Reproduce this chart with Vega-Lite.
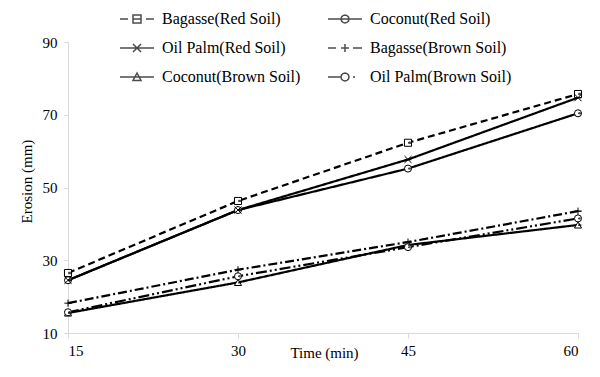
{
  "$schema": "https://vega.github.io/schema/vega-lite/v6.json",
  "width": 510,
  "height": 291,
  "autosize": "none",
  "padding": {"left": 68, "top": 42, "right": 22, "bottom": 44},
  "background": "white",
  "config": {"view": {"stroke": null}, "font": "Liberation Serif"},
  "data": {"values": [
    {"time": 15, "series": "Bagasse(Red Soil)", "erosion": 26.5},
    {"time": 30, "series": "Bagasse(Red Soil)", "erosion": 46.3},
    {"time": 45, "series": "Bagasse(Red Soil)", "erosion": 62.3},
    {"time": 60, "series": "Bagasse(Red Soil)", "erosion": 75.7},
    {"time": 15, "series": "Coconut(Red Soil)", "erosion": 24.5},
    {"time": 30, "series": "Coconut(Red Soil)", "erosion": 43.8},
    {"time": 45, "series": "Coconut(Red Soil)", "erosion": 55.2},
    {"time": 60, "series": "Coconut(Red Soil)", "erosion": 70.4},
    {"time": 15, "series": "Oil Palm(Red Soil)", "erosion": 24.5},
    {"time": 30, "series": "Oil Palm(Red Soil)", "erosion": 43.8},
    {"time": 45, "series": "Oil Palm(Red Soil)", "erosion": 57.7},
    {"time": 60, "series": "Oil Palm(Red Soil)", "erosion": 74.7},
    {"time": 15, "series": "Bagasse(Brown Soil)", "erosion": 18.2},
    {"time": 30, "series": "Bagasse(Brown Soil)", "erosion": 27.4},
    {"time": 45, "series": "Bagasse(Brown Soil)", "erosion": 35.0},
    {"time": 60, "series": "Bagasse(Brown Soil)", "erosion": 43.5},
    {"time": 15, "series": "Coconut(Brown Soil)", "erosion": 15.5},
    {"time": 30, "series": "Coconut(Brown Soil)", "erosion": 23.9},
    {"time": 45, "series": "Coconut(Brown Soil)", "erosion": 34.2},
    {"time": 60, "series": "Coconut(Brown Soil)", "erosion": 39.7},
    {"time": 15, "series": "Oil Palm(Brown Soil)", "erosion": 15.7},
    {"time": 30, "series": "Oil Palm(Brown Soil)", "erosion": 25.6},
    {"time": 45, "series": "Oil Palm(Brown Soil)", "erosion": 33.6},
    {"time": 60, "series": "Oil Palm(Brown Soil)", "erosion": 41.5}
  ]},
  "encoding": {
    "x": {
      "field": "time", "type": "quantitative",
      "scale": {"domain": [15, 60], "nice": false, "zero": false},
      "axis": {
        "values": [15, 30, 45, 60], "grid": false,
        "domainColor": "#d9d9d9", "tickColor": "#d9d9d9", "tickSize": 5,
        "labelFont": "Liberation Serif", "labelFontSize": 15, "labelColor": "black", "labelPadding": 5,
        "title": "Time (min)", "titleFont": "Liberation Serif", "titleFontSize": 15,
        "titleFontWeight": "normal", "titleColor": "black",
        "titleX": 256, "titleY": 19, "titleBaseline": "middle", "titleAlign": "center"
      }
    },
    "y": {
      "field": "erosion", "type": "quantitative",
      "scale": {"domain": [10, 90], "nice": false, "zero": false},
      "axis": {
        "values": [10, 30, 50, 70, 90], "grid": false,
        "domainColor": "#d9d9d9", "tickColor": "#d9d9d9", "tickSize": 4,
        "labelFont": "Liberation Serif", "labelFontSize": 15, "labelColor": "black", "labelPadding": 7,
        "title": "Erosion (mm)", "titleFont": "Liberation Serif", "titleFontSize": 15,
        "titleFontWeight": "normal", "titleColor": "black",
        "titleX": -42, "titleY": 139, "titleAngle": 270, "titleBaseline": "middle", "titleAlign": "center"
      }
    }
  },
  "layer": [
    {
      "mark": {"type": "line", "color": "black"},
      "encoding": {
        "detail": {"field": "series"},
        "strokeDash": {
          "field": "series", "type": "nominal", "legend": null,
          "scale": {
            "domain": ["Bagasse(Red Soil)", "Coconut(Red Soil)", "Oil Palm(Red Soil)", "Bagasse(Brown Soil)", "Coconut(Brown Soil)", "Oil Palm(Brown Soil)"],
            "range": [[7, 4], [1, 0], [1, 0], [9, 3, 2, 3], [1, 0], [11, 3, 2, 3, 2, 3]]
          }
        },
        "strokeWidth": {
          "field": "series", "type": "nominal", "legend": null,
          "scale": {
            "domain": ["Bagasse(Red Soil)", "Coconut(Red Soil)", "Oil Palm(Red Soil)", "Bagasse(Brown Soil)", "Coconut(Brown Soil)", "Oil Palm(Brown Soil)"],
            "range": [2.2, 2.2, 2.2, 2, 1.6, 1.8]
          }
        }
      }
    },
    {
      "mark": {"type": "point", "filled": true, "fill": "white", "stroke": "black", "strokeWidth": 1, "size": 50, "opacity": 1},
      "encoding": {
        "shape": {
          "field": "series", "type": "nominal", "legend": null,
          "scale": {
            "domain": ["Bagasse(Red Soil)", "Coconut(Red Soil)", "Oil Palm(Red Soil)", "Bagasse(Brown Soil)", "Coconut(Brown Soil)", "Oil Palm(Brown Soil)"],
            "range": ["square", "circle", "M-1,-1L1,1M-1,1L1,-1", "M-1,0H1M0,-1V1", "triangle-up", "circle"]
          }
        }
      }
    },
    {
      "mark": {"type": "point", "filled": false, "stroke": "black", "strokeWidth": 1.5, "size": 1},
      "encoding": {
        "shape": {
          "field": "series", "type": "nominal",
          "scale": {
            "domain": ["Bagasse(Red Soil)", "Coconut(Red Soil)", "Oil Palm(Red Soil)", "Bagasse(Brown Soil)", "Coconut(Brown Soil)", "Oil Palm(Brown Soil)"],
            "range": [
              "M0,0L1.6,0M5.2,0L6.8,0M2.6,-0.8L4.2,-0.8L4.2,0.8L2.6,0.8ZM2.6,0L4.2,0",
              "M0,0L6.8,0M4.2,0L4.09,0.4L3.8,0.69L3.4,0.8L3,0.69L2.71,0.4L2.6,0L2.71,-0.4L3,-0.69L3.4,-0.8L3.8,-0.69L4.09,-0.4Z",
              "M0,0L6.8,0M2.6,-0.8L4.2,0.8M2.6,0.8L4.2,-0.8",
              "M0,0L1.6,0M2.6,0L4.2,0M3.4,-0.8L3.4,0.8M5.0,0L6.8,0",
              "M0,0L6.8,0M3.4,-0.8L4.2,0.7L2.6,0.7Z",
              "M0,0L2.6,0M4.2,0L4.09,0.4L3.8,0.69L3.4,0.8L3,0.69L2.71,0.4L2.6,0L2.71,-0.4L3,-0.69L3.4,-0.8L3.8,-0.69L4.09,-0.4ZM5.0,0L5.4,0"
            ]
          },
          "legend": {
            "title": null, "orient": "none", "legendX": 44, "legendY": -31,
            "direction": "horizontal",
            "columns": 2, "columnPadding": 19, "rowPadding": 13, "padding": 0,
            "symbolSize": 100, "symbolStrokeWidth": 1.5, "symbolStrokeColor": "black",
            "labelFont": "Liberation Serif", "labelFontSize": 16, "labelColor": "black",
            "labelOffset": 34, "labelLimit": 0
          }
        }
      }
    }
  ],
  "resolve": {"scale": {"shape": "independent"}}
}
